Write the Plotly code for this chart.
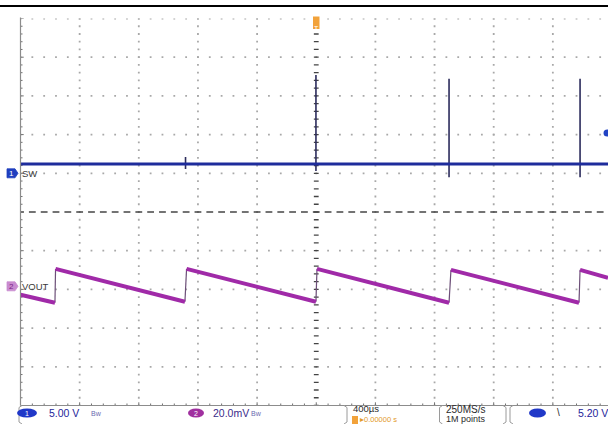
import numpy as np
import plotly.graph_objects as go

W, H = 608, 424

# ---- scope settings -------------------------------------------------------
TIME_SCALE_US = 400.0      # horizontal: 400 µs/div
CH1_SCALE_V = 5.0          # channel 1 (SW): 5.00 V/div
CH1_POS_DIV = 1.0
CH2_SCALE_MV = 20.0        # channel 2 (VOUT): 20.0 mV/div
CH2_POS_DIV = -1.92
TRIG_LEVEL_V = 5.20

# ---- channel 1: switch node ----------------------------------------------
sw_level_v = 1.2
spike_t_us = [-884, -2, 898, 1784]
spike_hi_v = [2.1, 12.7, 12.2, 12.2]
spike_lo_v = [0.55, 0.3, -0.5, -0.5]

# ---- channel 2: output ripple (ramp segments) ----------------------------
ramp_start_t_us = [-2000, -1763, -877, 5, 911, 1784]
ramp_start_mv = [-4.4, 9.0, 9.0, 9.0, 8.5, 8.5]
ramp_end_t_us = [-1767, -888, -2, 898, 1777, 1973]
ramp_end_mv = [-8.5, -8.0, -8.0, -8.5, -8.5, 4.4]

# ---- status bar text -----------------------------------------------------
ch1_label = "SW"
ch2_label = "VOUT"
ch1_scale_txt = "5.00 V"
ch2_scale_txt = "20.0mV"
bw_txt = "Bw"
time_scale_txt = "400µs"
trig_pos_txt = "▸0.00000 s"
rate_txt = "250MS/s"
points_txt = "1M points"
slope_txt = "\\"
trig_level_txt = "5.20 V"

# ---- geometry of the graticule on the page -------------------------------
GX0, GX1 = 20.5, 608.0          # left edge of graticule, page right edge
GY0, GY1 = 18.5, 405.5          # top / bottom of graticule
DIV_PX = 59.15
X_DOM = [GX0 / W, 1.0]
Y_DOM = [1 - GY1 / H, 1 - GY0 / H]
X_RANGE = [-5 * TIME_SCALE_US, -5 * TIME_SCALE_US + (GX1 - GX0) / DIV_PX * TIME_SCALE_US]
Y_RANGE = [-5, 5]
US_PER_PX = TIME_SCALE_US / DIV_PX
DIV_PER_PX = 10 / (GY1 - GY0)


def ch1(v):
    return v / CH1_SCALE_V + CH1_POS_DIV


def ch2(mv):
    return mv / CH2_SCALE_MV + CH2_POS_DIV


def pxx(x):
    return x / W


def pxy(y):
    return 1 - y / H


def div_to_paper(d):
    return Y_DOM[0] + (d - Y_RANGE[0]) / (Y_RANGE[1] - Y_RANGE[0]) * (Y_DOM[1] - Y_DOM[0])


fig = go.Figure()

# graticule dots along the major lines
minor = np.round(np.arange(-25, 26) * 0.2, 3)
gx, gy = [], []
for row in [-4, -3, -2, -1, 1, 2, 3, 4, 5]:
    for m in minor:
        gx.append(m * TIME_SCALE_US)
        gy.append(row)
for col in [-4, -3, -2, -1, 1, 2, 3, 4]:
    for m in minor:
        gx.append(col * TIME_SCALE_US)
        gy.append(m)
fig.add_trace(go.Scatter(x=gx, y=gy, mode="markers", hoverinfo="skip",
                         marker=dict(symbol="square", size=1.8, color="#a8a8a8", line_width=0)))

# centre cross: dashed horizontal, ticked vertical
half_dash = 3.4 * US_PER_PX
hx, hy = [], []
for m in minor:
    hx += [m * TIME_SCALE_US - half_dash, m * TIME_SCALE_US + half_dash, None]
    hy += [0, 0, None]
fig.add_trace(go.Scatter(x=hx, y=hy, mode="lines", hoverinfo="skip",
                         line=dict(color="#444444", width=1.3)))
half_tick = 2.4 * US_PER_PX
vx, vy = [], []
for m in minor:
    vx += [-half_tick, half_tick, None]
    vy += [m, m, None]
fig.add_trace(go.Scatter(x=vx, y=vy, mode="lines", hoverinfo="skip",
                         line=dict(color="#444444", width=1.3)))

# edge ticks (left and bottom)
ex, ey = [], []
for m in minor:
    ln = 3.2 if abs(m - round(m)) < 1e-6 else 2.0
    ex += [X_RANGE[0], X_RANGE[0] + ln * US_PER_PX, None]
    ey += [m, m, None]
for m in minor:
    if m * TIME_SCALE_US > X_RANGE[1]:
        continue
    ln = 3.2 if abs(m - round(m)) < 1e-6 else 2.0
    ex += [m * TIME_SCALE_US, m * TIME_SCALE_US, None]
    ey += [-5, -5 + ln * DIV_PER_PX, None]
fig.add_trace(go.Scatter(x=ex, y=ey, mode="lines", hoverinfo="skip",
                         line=dict(color="#707070", width=1)))

# SW spikes
sx, sy = [], []
for t, hi, lo in zip(spike_t_us, spike_hi_v, spike_lo_v):
    sx += [t, t, None]
    sy += [ch1(hi), ch1(lo), None]
fig.add_trace(go.Scatter(x=sx, y=sy, mode="lines", hoverinfo="skip",
                         line=dict(color="#2c2c5c", width=1.6)))

# SW baseline
fig.add_trace(go.Scatter(x=[X_RANGE[0], X_RANGE[1]], y=[ch1(sw_level_v)] * 2,
                         mode="lines", hoverinfo="skip",
                         line=dict(color="#1e2c9c", width=3)))

# VOUT: fast edges between ramps
jx, jy = [], []
for i in range(len(ramp_start_t_us) - 1):
    jx += [ramp_end_t_us[i], ramp_start_t_us[i + 1], None]
    jy += [ch2(ramp_end_mv[i]), ch2(ramp_start_mv[i + 1]), None]
fig.add_trace(go.Scatter(x=jx, y=jy, mode="lines", hoverinfo="skip",
                         line=dict(color="#6c4f78", width=1.2)))

# VOUT: discharge ramps
rx, ry = [], []
for ts, vs, te, ve in zip(ramp_start_t_us, ramp_start_mv, ramp_end_t_us, ramp_end_mv):
    rx += [ts, te, None]
    ry += [ch2(vs), ch2(ve), None]
fig.add_trace(go.Scatter(x=rx, y=ry, mode="lines", hoverinfo="skip",
                         line=dict(color="#a02aa8", width=4)))

shapes = []
annotations = []

# top rule
shapes.append(dict(type="line", xref="paper", yref="paper", x0=0, x1=1,
                   y0=pxy(6), y1=pxy(6), line=dict(color="#000000", width=2)))
# graticule left and bottom edges
shapes.append(dict(type="line", xref="paper", yref="paper", x0=pxx(GX0), x1=pxx(GX0),
                   y0=pxy(GY0 - 1), y1=pxy(GY1), line=dict(color="#8c8c8c", width=1.2)))
shapes.append(dict(type="line", xref="paper", yref="paper", x0=pxx(GX0), x1=1,
                   y0=pxy(GY1), y1=pxy(GY1), line=dict(color="#8c8c8c", width=1.2)))


def channel_marker(level_div, fill, txt, txtcol, label):
    yc = H - div_to_paper(level_div) * H   # page px
    path = "M {a},{b} L {c},{b} L {d},{e} L {c},{f} L {a},{f} Z".format(
        a=pxx(7), b=pxy(yc - 4.5), c=pxx(15), d=pxx(18), e=pxy(yc), f=pxy(yc + 4.5))
    shapes.append(dict(type="path", xref="paper", yref="paper", path=path,
                       fillcolor=fill, line=dict(color=fill, width=0.8)))
    annotations.append(dict(x=pxx(11.5), y=pxy(yc), xref="paper", yref="paper", text=txt,
                            showarrow=False, font=dict(size=8, color=txtcol, family="Liberation Sans"),
                            xanchor="center", yanchor="middle"))
    annotations.append(dict(x=pxx(19.5), y=pxy(yc), xref="paper", yref="paper", text=label,
                            showarrow=False, font=dict(size=9.5, color="#3a3a3a", family="Liberation Sans"),
                            xanchor="left", yanchor="middle"))


channel_marker(CH1_POS_DIV, "#1f3fbf", "1", "#ffffff", ch1_label)
channel_marker(CH2_POS_DIV, "#c98bd0", "2", "#7a1f86", ch2_label)

# trigger position marker (top centre)
shapes.append(dict(type="rect", xref="paper", yref="paper", x0=pxx(313), x1=pxx(319.5),
                   y0=pxy(29), y1=pxy(16.5), fillcolor="#f2a23a", line=dict(width=0)))
annotations.append(dict(x=pxx(316.3), y=pxy(22.5), xref="paper", yref="paper", text="T",
                        showarrow=False, font=dict(size=7, color="#ffffff", family="Liberation Sans")))

# trigger level marker (right edge)
trig_y = H - div_to_paper(ch1(TRIG_LEVEL_V)) * H
shapes.append(dict(type="circle", xref="paper", yref="paper", x0=pxx(603.5), x1=pxx(611),
                   y0=pxy(trig_y + 3.5), y1=pxy(trig_y - 3.5), fillcolor="#2244c4", line=dict(width=0)))

# ---- status bar ----------------------------------------------------------
SB_FONT = "Liberation Sans"


def sb_text(x, y, txt, col, size=10.5, anchor="left"):
    annotations.append(dict(x=pxx(x), y=pxy(y), xref="paper", yref="paper", text=txt,
                            showarrow=False, xanchor=anchor, yanchor="middle", borderpad=0,
                            font=dict(size=size, color=col, family=SB_FONT)))


def oval(x0, x1, fill, txt=None):
    shapes.append(dict(type="circle", xref="paper", yref="paper", x0=pxx(x0), x1=pxx(x1),
                       y0=pxy(417.5), y1=pxy(408.5), fillcolor=fill, line=dict(width=0)))
    if txt:
        sb_text((x0 + x1) / 2, 413.2, txt, "#ffffff", size=7, anchor="center")


def bracket(x, side):
    d = 3 if side == "left" else -3
    path = "M {a},{b} L {c},{d} L {c},{e} L {a},{f}".format(
        a=pxx(x + d), b=pxy(405.5), c=pxx(x), d=pxy(407.5), e=pxy(422), f=pxy(424))
    shapes.append(dict(type="path", xref="paper", yref="paper", path=path,
                       line=dict(color="#9a9a9a", width=1)))


bracket(19, "left")
bracket(347, "right")
bracket(439.5, "left")
bracket(506, "right")
bracket(510, "left")

oval(17, 37, "#2038c8", "1")
sb_text(48, 413, ch1_scale_txt, "#24249a")
sb_text(90, 413, bw_txt, "#6a6ab0", size=7)
oval(188, 204, "#a0309f", "2")
sb_text(212, 413, ch2_scale_txt, "#3a2a8a")
sb_text(250, 413, bw_txt, "#6a6ab0", size=7)

sb_text(352, 408.2, time_scale_txt, "#2a2a2a", size=9.5)
shapes.append(dict(type="rect", xref="paper", yref="paper", x0=pxx(352), x1=pxx(358),
                   y0=pxy(424), y1=pxy(416), fillcolor="#f2a23a", line=dict(width=0)))
sb_text(358.5, 419.6, trig_pos_txt, "#e39a2a", size=7.5)

sb_text(445, 409.5, rate_txt, "#2a2a2a", size=10)
sb_text(445, 419.3, points_txt, "#2a2a2a", size=9)

oval(529, 546, "#2038c8")
sb_text(556, 412.5, slope_txt, "#2a2a2a", size=10)
sb_text(577, 413, trig_level_txt, "#24249a")

fig.update_layout(
    width=W, height=H,
    margin=dict(l=0, r=0, t=0, b=0),
    paper_bgcolor="#ffffff", plot_bgcolor="#ffffff",
    showlegend=False,
    xaxis=dict(domain=X_DOM, range=X_RANGE, visible=False, fixedrange=True),
    yaxis=dict(domain=Y_DOM, range=Y_RANGE, visible=False, fixedrange=True),
    shapes=shapes,
    annotations=annotations,
)

fig.write_html("out.html")
